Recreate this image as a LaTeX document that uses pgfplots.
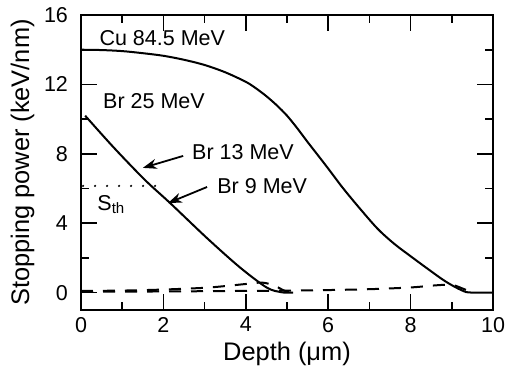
\documentclass[border=0pt]{standalone}
\usepackage{fontspec}
\setmainfont{Liberation Sans}
\usepackage{pgfplots}
\pgfplotsset{compat=1.18}
\usetikzlibrary{arrows.meta}
\begin{document}
\begin{tikzpicture}
\begin{axis}[
  scale only axis,
  width=206pt, height=147.5pt,
  xmin=0, xmax=10, ymin=-1, ymax=16,
  xtick={0,2,...,10}, ytick={0,4,...,16},
  minor x tick num=1, minor y tick num=1,
  tick align=inside,
  major tick length=8pt, minor tick length=4pt,
  axis line style={line width=1pt},
  every tick/.style={line width=0.8pt, black},
  /pgf/number format/assume math mode=true,
  tick label style={font=\fontsize{10.75}{12}\selectfont},
  yticklabel style={xshift=-3pt},
  label style={font=\fontsize{12.7}{14}\selectfont},
  xlabel={Depth (μm)},
  ylabel={Stopping power (keV/nm)},
  xlabel style={yshift=2pt},
  ylabel style={yshift=-2pt},
  clip=false,
]
% Cu 84.5 MeV electronic
\addplot[black, line width=1pt, smooth, tension=0.5] coordinates {
(0,14.0) (0.5,13.98) (1,13.92) (1.5,13.8) (2,13.65) (2.5,13.42) (3,13.12) (3.5,12.7)
(4,12.15) (4.25,11.77) (4.5,11.32) (4.75,10.8) (5,10.2) (5.25,9.47) (5.5,8.68) (5.75,7.92) (6,7.15) (6.35,6.05)
(6.75,4.9) (7.2,3.68) (7.6,2.82) (8,2.1) (8.4,1.4) (8.8,0.72) (9.1,0.3) (9.35,0.03) (9.5,0) (10,0)};
% Br 25 MeV electronic
\addplot[black, line width=1pt, smooth, tension=0.5] coordinates {
(0.1,10.2) (0.8,8.35) (1.55,6.5) (2.16,5.17) (3.06,3.14) (3.86,1.45)
(4.51,0.29) (4.85,0.03) (5.0,0) (5.15,0)};
% nuclear stopping (dashed)
\addplot[black, line width=1pt, dash pattern=on 6pt off 5pt, smooth] coordinates {
(0,0.1) (1,0.12) (2,0.18) (3,0.28) (3.5,0.38) (4,0.5) (4.4,0.58) (4.7,0.4) (4.95,0.1) (5.2,0)};
\addplot[black, line width=1pt, dash pattern=on 6pt off 5pt, smooth] coordinates {
(0,0.05) (2,0.07) (4,0.1) (5,0.12) (6,0.15) (7,0.2) (8,0.3) (8.6,0.42) (9,0.45) (9.3,0.2) (9.5,0)};
% threshold
\addplot[black, line width=1.2pt, line cap=round, dash pattern=on 0pt off 6pt] coordinates {(0.05,6.15) (1.95,6.15)};
% annotations
\node[anchor=west, inner sep=0pt, font=\fontsize{10.75}{12}\selectfont] at (axis cs:0.44,14.67) {Cu 84.5 MeV};
\node[anchor=west, inner sep=0pt, font=\fontsize{10.75}{12}\selectfont] at (axis cs:0.53,11.04) {Br 25 MeV};
\node[anchor=west, inner sep=0pt, font=\fontsize{10.75}{12}\selectfont] at (axis cs:2.69,8.12) {Br 13 MeV};
\node[anchor=west, inner sep=0pt, font=\fontsize{10.75}{12}\selectfont] at (axis cs:3.30,6.14) {Br 9 MeV};
\node[anchor=base west, inner sep=0pt, font=\fontsize{10.75}{12}\selectfont] at (axis cs:0.39,4.75) {S\textsubscript{th}};
\draw[line width=0.9pt, -{Stealth[length=7pt,width=5pt]}] (axis cs:2.48,7.88) -- (axis cs:1.50,7.19);
\draw[line width=0.9pt, -{Stealth[length=7pt,width=5pt]}] (axis cs:3.06,6.09) -- (axis cs:2.11,5.16);
\end{axis}
\pgfresetboundingbox
\path[use as bounding box] (-40.5pt,-31pt) rectangle (212.5pt,155pt);
\end{tikzpicture}
\end{document}
